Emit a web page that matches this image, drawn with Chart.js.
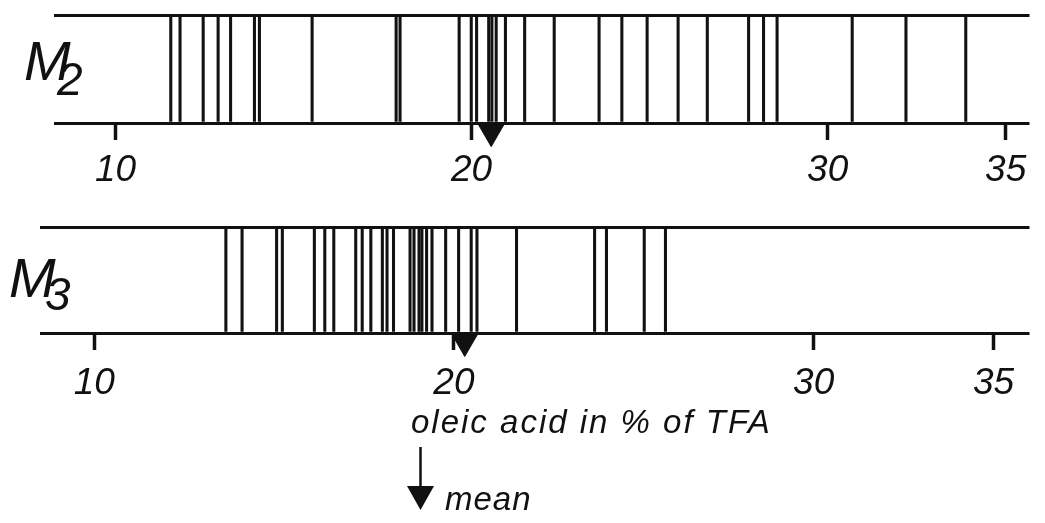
<!DOCTYPE html>
<html><head><meta charset="utf-8">
<script src="https://cdn.jsdelivr.net/npm/chart.js@4.4.1/dist/chart.umd.min.js"></script>
<style>
html,body{margin:0;padding:0;background:#fff;}
#wrap{position:relative;width:1045px;height:523px;overflow:hidden;font-family:'Liberation Sans',Arial,sans-serif;font-style:italic;color:#111;}
.box{position:absolute;left:0;width:1045px;}
.t{position:absolute;white-space:nowrap;line-height:1;}
</style></head><body>
<div id="wrap">
  <div class="box" style="top:0;height:200px"><canvas id="c1"></canvas></div>
  <div class="box" style="top:205px;height:200px"><canvas id="c2"></canvas></div>
  <div>
    <span class="t" style="left:24px;top:33px;font-size:56px">M</span><span class="t" style="left:57px;top:56px;font-size:46px">2</span>
  </div>
  <div>
    <span class="t" style="left:9px;top:250px;font-size:56px">M</span><span class="t" style="left:45px;top:271px;font-size:46px">3</span>
  </div>
  <span class="t" style="left:411px;top:405px;font-size:33px;letter-spacing:2px">oleic acid in % of TFA</span>
  <svg style="position:absolute;left:0;top:0" width="1045" height="523">
    <line x1="420.5" y1="447" x2="420.5" y2="490" stroke="#111" stroke-width="2.5"/>
    <polygon points="407,486 434,486 420.5,510" fill="#111"/>
  </svg>
  <span class="t" style="left:445px;top:482px;font-size:33px;letter-spacing:1px">mean</span>
</div>
<script>
const tickLabels = [10, 20, 30, 35];
const m2Values = [11.55, 11.81, 12.46, 12.88, 13.23, 13.90, 14.04, 15.52, 17.88, 17.99,
                  19.65, 19.99, 20.14, 20.48, 20.57, 20.69, 20.95, 21.49, 22.32, 23.58,
                  24.22, 24.93, 25.80, 26.62, 27.78, 28.20, 28.58, 30.69, 32.20, 33.88];
const m2Mean = 20.55;
const m3Values = [13.66, 14.11, 15.07, 15.23, 16.12, 16.41, 16.66, 17.27, 17.45, 17.69,
                  18.01, 18.14, 18.32, 18.78, 18.89, 19.03, 19.11, 19.24, 19.39, 19.77,
                  20.13, 20.48, 20.64, 21.74, 23.91, 24.24, 25.29, 25.88];
const m3Mean = 20.30;

const INK = '#111';
function makeStrip(id, values, mean, xmin, xmax, pad, tickPad) {
  return new Chart(document.getElementById(id), {
    type: 'bar',
    data: {
      datasets: [
        { type: 'bar', data: values.map(v => ({ x: v, y: [0, 1] })), backgroundColor: INK,
          barThickness: 2.4, borderWidth: 0 },
        { type: 'scatter', data: [{ x: mean, y: -0.085 }], pointStyle: 'triangle', pointRotation: 180,
          pointRadius: 14.5, pointBackgroundColor: INK, pointBorderColor: INK, pointBorderWidth: 1, clip: false }
      ]
    },
    options: {
      responsive: true, maintainAspectRatio: false, animation: false,
      layout: { padding: pad },
      plugins: { legend: { display: false }, tooltip: { enabled: false } },
      scales: {
        x: {
          type: 'linear', min: xmin, max: xmax, offset: false,
          afterBuildTicks: s => { s.ticks = tickLabels.map(v => ({ value: v })); },
          afterFit: s => { s.height = 62; },
          grid: { offset: false, drawOnChartArea: false, drawTicks: true, tickLength: 17, tickWidth: 3.5, tickColor: INK },
          border: { display: false },
          ticks: { padding: tickPad, color: INK, autoSkip: false, maxRotation: 0,
                   font: { family: 'Liberation Sans', style: 'italic', size: 37 } }
        },
        y: {
          type: 'linear', min: 0, max: 1,
          afterBuildTicks: s => { s.ticks = [{ value: 0 }, { value: 1 }]; },
          afterFit: s => { s.width = 0; },
          grid: { drawTicks: false, lineWidth: 3, color: INK },
          border: { display: false },
          ticks: { display: false }
        }
      }
    }
  });
}
makeStrip('c1', m2Values, m2Mean, 8.270, 35.670, { left: 54, right: 9, top: 15, bottom: 15 }, 9);
makeStrip('c2', m3Values, m3Mean, 8.493, 36.0, { left: 40, right: 5, top: 22, bottom: 10 }, 12);
</script>
</body></html>
